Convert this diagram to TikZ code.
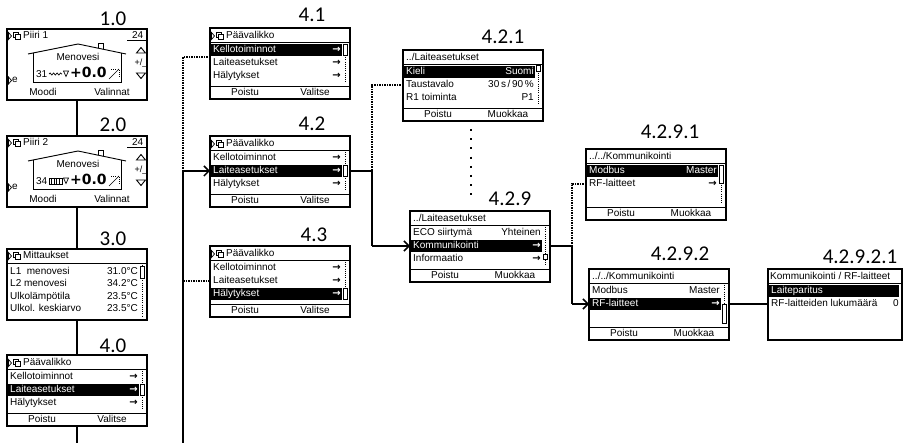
\documentclass[tikz,border=0pt]{standalone}
\usepackage{fontspec}
\setmainfont{Liberation Sans}
\newfontfamily\numfont{Carlito}
\newfontfamily\lcdbig{DejaVu Sans}
\usetikzlibrary{calc}
\usetikzlibrary{positioning}
\usetikzlibrary{arrows.meta,decorations.pathmorphing}
\tikzset{
	>={Straight Barb[length=5pt,width=10pt]},
	screen/.style={
		rectangle,
		draw=black, line width=1.6pt,
		fill=white,
		minimum width=140pt,
		minimum height=71pt,
		anchor=north west,
		inner sep=0pt, outer sep=0pt},
	nr/.style={font=\numfont\fontsize{21}{21}\selectfont, inner sep=0pt},
	rowl/.style={anchor=mid west, inner sep=0pt},
	rowr/.style={anchor=mid east, inner sep=0pt},
	foot/.style={anchor=mid, inner sep=0pt},
	sep/.style={line width=0.9pt},
	icn/.style={line width=0.7pt},
	line/.style={draw, line width=1.5pt},
	dotline/.style={draw, line width=2.4pt, dash pattern=on 1.5pt off 1pt},
	sparse/.style={draw, line width=2.2pt, dash pattern=on 2pt off 7.2pt},
	track/.style={draw, line width=0.7pt, dash pattern=on 0.8pt off 1.4pt},
	thumb/.style={draw, line width=0.9pt, fill=white},
}
% screen parts, in the screen's own coordinates
\newcommand{\scrhead}[3]{%
	\draw[icn] (1.5,#2-3.5) -- (4.5,#2) -- (1.5,#2+3.5) -- cycle;
	\draw[icn] (6,#2-4) rectangle (11,#2+1);
	\draw[icn,fill=white] (8.5,#2-1.5) rectangle (13.5,#2+3.5);
	\node[rowl] (#1) at (16,#2) {#3};}
\newcommand{\scrrow}[4]{%
	\node[rowl] (#1) at (3,#2) {#3};
	\node[rowr] (#1v) at (131,#2) {#4};}
\newcommand{\scrsel}[4]{%
	\fill (0.8,#2-6) rectangle (132,#2+6);
	\node[rowl,text=white] (#1) at (3,#2) {#3};
	\node[rowr,text=white] (#1v) at (131,#2) {#4};}
\newcommand{\scrbar}[4]{%
	\draw[track] (135.5,#1) -- (135.5,#2);
	\draw[thumb] (133.5,#3) rectangle (137.5,#4);}
\newcommand{\scrfoot}[3]{%
	\draw[sep] (0,58.5) -- (140,58.5);
	\node[foot] (#1a) at (35,65) {#2};
	\node[foot] (#1b) at (105,65) {#3};}
\newcommand{\go}{{\lcdbig\bfseries →}}
\newcommand{\house}[2]{%
	\scrhead{#1t}{7}{#2}
	\node[rowr] (#1n) at (136.5,7) {24};
	\draw[sep] (120,11) -- (139,11);
	\draw[sep] (21,25) -- (71,15) -- (119,25);
	\draw[sep] (91,19.2) -- (91,14.5) -- (96,14.5) -- (96,20.2);
	\draw[sep] (26,24) -- (26,53) -- (114,53) -- (114,24);
	\node[foot] (#1m) at (71,29) {Menovesi};
	\draw[icn] (56.5,42) -- (61.5,42) -- (59,47.5) -- cycle;
	\node[anchor=base west, inner sep=0pt, font=\lcdbig\bfseries\fontsize{14}{14}\selectfont] (#1s) at (63,49) {+0.0};
	\draw[icn] (102,50) -- (112,40);
	\draw[track] (104,40) -- (112,40) -- (112,48);
	\draw[sep] (129.5,24) -- (138.5,24) -- (134,18.5) -- cycle;
	\node[foot, font=\fontsize{9}{9}\selectfont] (#1p) at (134,33.5) {+/\_};
	\draw[sep] (129.5,44) -- (138.5,44) -- (134,49.5) -- cycle;
	\draw[icn] (1.5,48) -- (4.5,51.5) -- (1.5,55) -- cycle;
	\node[rowl] (#1e) at (5,51) {e};
	\node[foot] (#1a) at (36,63.5) {Moodi};
	\node[foot] (#1b) at (105,63.5) {Valinnat};}

\begin{document}
\begin{tikzpicture}[x=1pt, y=-1pt, font=\fontsize{10}{12}\selectfont]
	\useasboundingbox (0,0) rectangle (911,443);
	% screens
	\node[screen] (s10) at (7,29) {};
	\node[screen] (s20) at (7,136) {};
	\node[screen] (s30) at (7,249) {};
	\node[screen] (s40) at (7,355) {};
	\node[screen] (s41) at (210,28) {};
	\node[screen] (s42) at (210,136) {};
	\node[screen] (s43) at (210,246) {};
	\node[screen] (s421) at (403,50) {};
	\node[screen] (s429) at (410,211) {};
	\node[screen] (s4291) at (586,149) {};
	\node[screen] (s4292) at (589,269) {};
	\node[screen, minimum width=134pt] (s42921) at (768,269) {};
	
	% numbers
	\node[nr] (n10) at (113,19) {1.0};
	\node[nr] (n20) at (113,125) {2.0};
	\node[nr] (n30) at (113,239) {3.0};
	\node[nr] (n40) at (113,346) {4.0};
	\node[nr] (n41) at (312,15) {4.1};
	\node[nr] (n42) at (312,124) {4.2};
	\node[nr] (n43) at (314,235) {4.3};
	\node[nr] (n421) at (503,37) {4.2.1};
	\node[nr] (n429) at (510,199) {4.2.9};
	\node[nr] (n4291) at (670,132) {4.2.9.1};
	\node[nr] (n4292) at (680,254) {4.2.9.2};
	\node[nr] (n42921) at (860,257) {4.2.9.2.1};
	
	\begin{scope}[shift={(s10.north west)}]
		\house{s10}{Piiri 1}
		\node[anchor=base east, inner sep=0pt] (s10v) at (40.5,49) {31};
		\draw[icn, decorate, decoration={snake, amplitude=1pt, segment length=3.5pt}] (42,45) -- (55,45);
	\end{scope}
	\begin{scope}[shift={(s20.north west)}]
		\house{s20}{Piiri 2}
		\node[anchor=base east, inner sep=0pt] (s20v) at (40.5,49) {34};
		\draw[icn] (42,42) rectangle (55,48);
		\foreach \x in {44.5,47,49.5,52}
			\draw[icn] (\x,42) -- (\x,48);
	\end{scope}
	\begin{scope}[shift={(s30.north west)}]
		\scrhead{s30t}{7}{Mittaukset}
		\draw[sep] (0,14) -- (140,14);
		\scrrow{s30r1}{22.5}{L1\ \ menovesi}{31.0°C}
		\scrrow{s30r2}{35}{L2 menovesi}{34.2°C}
		\scrrow{s30r3}{47.5}{Ulkolämpötila}{23.5°C}
		\scrrow{s30r4}{60}{Ulkol. keskiarvo}{23.5°C}
		\scrbar{16}{67}{17}{29}
	\end{scope}
	\begin{scope}[shift={(s40.north west)}]
		\scrhead{s40t}{8}{Päävalikko}
		\draw[sep] (0,14.5) -- (140,14.5);
		\scrrow{s40r1}{22}{Kellotoiminnot}{\go}
		\scrsel{s40r2}{35}{Laiteasetukset}{\go}
		\scrrow{s40r3}{48}{Hälytykset}{\go}
		\scrbar{16}{55}{29.5}{40.5}
		\scrfoot{s40f}{Poistu}{Valitse}
	\end{scope}
	\begin{scope}[shift={(s41.north west)}]
		\scrhead{s41t}{8}{Päävalikko}
		\draw[sep] (0,14.5) -- (140,14.5);
		\scrsel{s41r1}{22}{Kellotoiminnot}{\go}
		\scrrow{s41r2}{35}{Laiteasetukset}{\go}
		\scrrow{s41r3}{48}{Hälytykset}{\go}
		\scrbar{16}{55}{16.5}{27.5}
		\scrfoot{s41f}{Poistu}{Valitse}
	\end{scope}
	\begin{scope}[shift={(s42.north west)}]
		\scrhead{s42t}{8}{Päävalikko}
		\draw[sep] (0,14.5) -- (140,14.5);
		\scrrow{s42r1}{22}{Kellotoiminnot}{\go}
		\scrsel{s42r2}{35}{Laiteasetukset}{\go}
		\scrrow{s42r3}{48}{Hälytykset}{\go}
		\scrbar{16}{55}{29.5}{40.5}
		\scrfoot{s42f}{Poistu}{Valitse}
	\end{scope}
	\begin{scope}[shift={(s43.north west)}]
		\scrhead{s43t}{8}{Päävalikko}
		\draw[sep] (0,14.5) -- (140,14.5);
		\scrrow{s43r1}{22}{Kellotoiminnot}{\go}
		\scrrow{s43r2}{35}{Laiteasetukset}{\go}
		\scrsel{s43r3}{48}{Hälytykset}{\go}
		\scrbar{16}{55}{42.5}{53.5}
		\scrfoot{s43f}{Poistu}{Valitse}
	\end{scope}
	\begin{scope}[shift={(s421.north west)}]
		\node[rowl] (s421t) at (3,8) {../Laiteasetukset};
		\draw[sep] (0,14.5) -- (140,14.5);
		\scrsel{s421r1}{22}{Kieli}{Suomi}
		\scrrow{s421r2}{35}{Taustavalo}{30\,s\,/\,90\,\%}
		\scrrow{s421r3}{48}{R1 toiminta}{P1}
		\scrbar{16}{55}{15.5}{21}
		\scrfoot{s421f}{Poistu}{Muokkaa}
	\end{scope}
	\begin{scope}[shift={(s429.north west)}]
		\node[rowl] (s429t) at (3,8) {../Laiteasetukset};
		\draw[sep] (0,14.5) -- (140,14.5);
		\scrrow{s429r1}{22}{ECO siirtymä}{Yhteinen}
		\scrsel{s429r2}{35}{Kommunikointi}{\go}
		\scrrow{s429r3}{48}{Informaatio}{\go}
		\scrbar{16}{55}{43}{48}
		\scrfoot{s429f}{Poistu}{Muokkaa}
	\end{scope}
	\begin{scope}[shift={(s4291.north west)}]
		\node[rowl] (s4291t) at (3,8) {../../Kommunikointi};
		\draw[sep] (0,14.5) -- (140,14.5);
		\scrsel{s4291r1}{22}{Modbus}{Master}
		\scrrow{s4291r2}{35}{RF-laitteet}{\go}
		\scrbar{16}{55}{16.5}{34}
		\scrfoot{s4291f}{Poistu}{Muokkaa}
	\end{scope}
	\begin{scope}[shift={(s4292.north west)}]
		\node[rowl] (s4292t) at (3,8) {../../Kommunikointi};
		\draw[sep] (0,14.5) -- (140,14.5);
		\scrrow{s4292r1}{22}{Modbus}{Master}
		\scrsel{s4292r2}{35}{RF-laitteet}{\go}
		\scrbar{16}{55}{35}{54}
		\scrfoot{s4292f}{Poistu}{Muokkaa}
	\end{scope}
	\begin{scope}[shift={(s42921.north west)}]
		\node[rowl] (s42921t) at (2,8) {Kommunikointi / RF-laitteet};
		\draw[sep] (0,14.5) -- (134,14.5);
		\fill (0.8,16) rectangle (131,28);
		\node[rowl,text=white] (s42921r1) at (3,22) {Laiteparitus};
		\scrrow{s42921r2}{35}{RF-laitteiden lukumäärä}{0}
	\end{scope}
	
	% main line
	\coordinate (e1) at (77,443);
	\draw[line] (s10.south) -- (s20.north);
	\draw[line] (s20.south) -- (s30.north);
	\draw[line] (s30.south) -- (s40.north);
	\draw[line] (s40.south) -- (e1);
	
	% Paavalikko branch
	\coordinate (j1) at (183,57);
	\coordinate (j2) at (183,0 |- s42r2.mid);
	\coordinate (j3) at (183,0 |- s43r2.mid);
	\coordinate (e2) at (183,443);
	\draw[dotline] (s41.west |- j1) -- (j1) -- (j2);
	\draw[line] (j2) -- (e2);
	\draw[line,->] (j2) -- (s42.west |- j2);
	\draw[dotline] (j3) -- (s43.west |- j3);
	
	% Laiteasetukset branch
	\coordinate (k1) at (372,0 |- s421r2.mid);
	\coordinate (k2) at (372,0 |- s42r2.mid);
	\coordinate (k3) at (372,0 |- s429r2.mid);
	\coordinate (m1) at (471,202);
	\draw[dotline] (s421.west |- k1) -- (k1) -- (k2);
	\draw[line] (s42.east |- k2) -- (k2) -- (k3);
	\draw[line,->] (k3) -- (s429.west |- k3);
	\draw[sparse, shorten <=8pt] (s421.south -| m1) -- (m1);
	
	% Kommunikointi branch
	\coordinate (p1) at (572,0 |- s4291r2.mid);
	\coordinate (p2) at (572,0 |- s429r2.mid);
	\coordinate (p3) at (572,0 |- s4292r2.mid);
	\draw[dotline] (s4291.west |- p1) -- (p1) -- (p2);
	\draw[line] (s429.east |- p2) -- (p2) -- (p3);
	\draw[line,->] (p3) -- (s4292.west |- p3);
	\draw[line] (s4292.east |- s42921r2.mid) -- (s42921.west |- s42921r2.mid);
\end{tikzpicture}
\end{document}
